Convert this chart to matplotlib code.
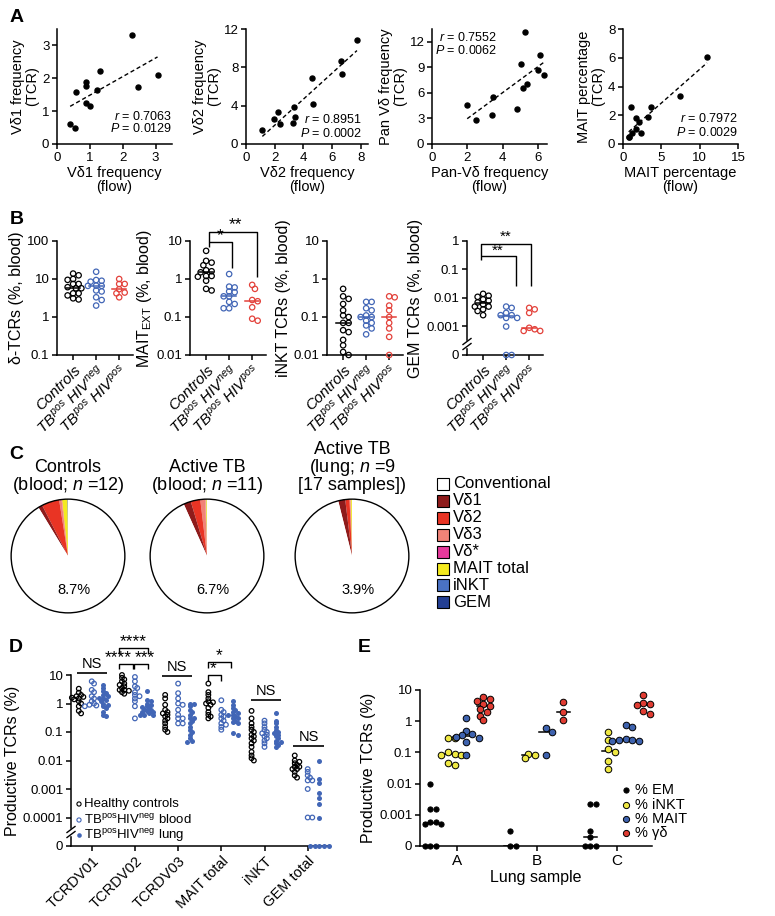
import numpy as np
import matplotlib
matplotlib.use('Agg')
import matplotlib.pyplot as plt
from matplotlib.patches import Rectangle, Circle

# ---------------- data ----------------
# A: TCR-seq frequency vs flow frequency
a1_flow = [2.27, 1.30, 3.06, 0.87, 0.87, 0.59, 1.21, 2.45, 0.87, 0.99, 0.40, 0.56]
a1_tcr = [3.31, 2.22, 2.09, 1.90, 1.76, 1.59, 1.64, 1.72, 1.26, 1.17, 0.62, 0.49]
a2_flow = [7.73, 6.61, 6.68, 4.59, 4.64, 3.32, 2.25, 3.43, 1.97, 3.29, 2.39, 1.14]
a2_tcr = [10.9, 8.68, 7.29, 6.91, 4.13, 3.89, 3.33, 2.78, 2.57, 2.22, 2.08, 1.42]
a3_flow = [5.28, 6.13, 5.02, 5.98, 6.32, 5.39, 5.15, 1.99, 3.42, 4.79, 3.40, 2.50]
a3_tcr = [13.1, 10.5, 9.34, 8.63, 8.13, 7.03, 6.52, 4.61, 5.47, 4.14, 3.44, 2.85]
a4_flow = [10.96, 7.39, 1.09, 3.61, 1.74, 3.22, 2.13, 1.70, 1.22, 2.35, 0.83, 0.74]
a4_tcr = [6.06, 3.31, 2.55, 2.59, 1.83, 1.85, 1.55, 1.06, 0.79, 0.79, 0.51, 0.46]
a_r = ['0.7063', '0.8951', '0.7552', '0.7972']
a_p = ['0.0129', '0.0002', '0.0062', '0.0029']

# B: % of blood TCRs (Controls, TBpos HIVneg, TBpos HIVpos)
b1_ctrl = [13.9, 12.5, 10.0, 9.5, 7.4, 7.4, 6.1, 5.7, 5.7, 4.2, 4.2, 3.7, 3.1, 2.9]
b1_hivneg = [15.5, 9.4, 9.0, 8.5, 6.6, 6.6, 6.7, 5.0, 4.7, 3.3, 2.8, 2.0]
b1_hivpos = [10.0, 7.4, 7.4, 5.4, 4.2, 4.4, 3.3]
b2_ctrl = [5.5, 3.0, 2.7, 2.3, 1.7, 1.6, 1.5, 1.2, 1.2, 1.15, 0.9, 0.55, 0.5]
b2_hivneg = [1.35, 0.63, 0.6, 0.47, 0.45, 0.35, 0.35, 0.25, 0.22, 0.17, 0.17]
b2_hivpos = [0.7, 0.55, 0.28, 0.26, 0.18, 0.09, 0.08]
b3_ctrl = [0.55, 0.35, 0.3, 0.22, 0.15, 0.11, 0.1, 0.07, 0.07, 0.045, 0.04, 0.025, 0.018, 0.012, 0.01]
b3_hivneg = [0.25, 0.25, 0.17, 0.15, 0.11, 0.1, 0.1, 0.08, 0.07, 0.06, 0.05, 0.035]
b3_hivpos = [0.35, 0.33, 0.2, 0.15, 0.1, 0.07, 0.05, 0.03, 0.01]
b4_ctrl = [0.014, 0.011, 0.012, 0.009, 0.008, 0.007, 0.006, 0.005, 0.005, 0.004, 0.0035, 0.0025]
b4_hivneg = [0.005, 0.0045, 0.003, 0.0025, 0.0025, 0.002, 0.002, 0.001, 0, 0]
b4_hivpos = [0.0045, 0.004, 0.003, 0.0009, 0.0008, 0.0007, 0.0007]
b_ylabels = ['δ-TCRs (%, blood)', 'MAIT$_{\\mathrm{EXT}}$ (%, blood)',
             'iNKT TCRs (%, blood)', 'GEM TCRs (%, blood)']

# C: composition of TCR repertoire (%), order Vd1, Vd2, Vd3, Vd*, MAIT, iNKT, GEM
pie_labels = ['Conventional', 'Vδ1', 'Vδ2', 'Vδ3', 'Vδ*', 'MAIT total', 'iNKT', 'GEM']
pie_ctrl = [1.2, 5.0, 0.7, 0.1, 1.5, 0.15, 0.05]
pie_tb_blood = [2.1, 2.7, 1.4, 0.1, 0.3, 0.08, 0.02]
pie_tb_lung = [2.0, 1.2, 0.25, 0.05, 0.35, 0.04, 0.01]
pie_titles = [['Controls', '(blood; $n$ =12)'], ['Active TB', '(blood; $n$ =11)'],
              ['Active TB', '(lung; $n$ =9', '[17 samples])']]

# D: productive TCRs (%)
d_cats = ['TCRDV01', 'TCRDV02', 'TCRDV03', 'MAIT total', 'iNKT', 'GEM total']
d_healthy = [
    [3.3, 2.4, 2.0, 1.8, 1.7, 1.6, 1.5, 1.4, 1.2, 1.0, 0.8, 0.55, 0.45],
    [10, 8, 7, 6, 5, 4.5, 4, 3.5, 3, 3, 2.8, 2.5, 2.2],
    [2.0, 1.5, 0.9, 0.6, 0.5, 0.45, 0.4, 0.35, 0.3, 0.25, 0.2, 0.15, 0.12, 0.1],
    [5.0, 2.5, 2.0, 1.5, 1.2, 1.1, 1.0, 0.9, 0.7, 0.5, 0.4, 0.35, 0.3],
    [0.55, 0.3, 0.2, 0.15, 0.12, 0.1, 0.08, 0.07, 0.06, 0.05, 0.04, 0.03, 0.02, 0.015, 0.012, 0.01],
    [0.015, 0.01, 0.009, 0.008, 0.007, 0.006, 0.006, 0.005, 0.005, 0.004, 0.003, 0.0025]]
d_tb_blood = [
    [6.0, 5.0, 3.0, 2.5, 1.8, 1.5, 1.2, 1.0, 0.9, 0.85, 0.8],
    [8.5, 6, 4, 3.5, 2.5, 2, 1.8, 1.5, 1.2, 0.8, 0.3],
    [5.0, 2.3, 1.5, 1.0, 0.9, 0.6, 0.4, 0.3, 0.3, 0.2, 0.2],
    [1.3, 0.6, 0.5, 0.4, 0.35, 0.3, 0.25, 0.2, 0.18, 0.15, 0.12],
    [0.25, 0.2, 0.15, 0.12, 0.1, 0.09, 0.08, 0.07, 0.06, 0.05, 0.04, 0.03],
    [0.005, 0.004, 0.003, 0.0025, 0.002, 0.002, 0.001, 0.0001, 0.0001]]
d_tb_lung = [
    [4.5, 3.5, 2.8, 2.3, 2.0, 1.8, 1.6, 1.5, 1.3, 1.2, 1.0, 0.9, 0.8, 0.7, 0.5, 0.4, 0.35],
    [2.8, 1.3, 1.2, 1.0, 0.9, 0.8, 0.75, 0.7, 0.65, 0.6, 0.55, 0.5, 0.5, 0.45, 0.4, 0.4, 0.38],
    [1.0, 1.0, 0.8, 0.6, 0.5, 0.4, 0.3, 0.3, 0.25, 0.2, 0.15, 0.12, 0.1, 0.08, 0.06, 0.05, 0.045],
    [1.2, 0.9, 0.7, 0.6, 0.5, 0.45, 0.4, 0.38, 0.35, 0.3, 0.3, 0.25, 0.22, 0.2, 0.09, 0.08],
    [0.45, 0.25, 0.2, 0.15, 0.12, 0.1, 0.09, 0.08, 0.07, 0.06, 0.05, 0.045, 0.04, 0.035, 0.03],
    [0.01, 0.0023, 0.0016, 0.0007, 0.0005, 0.0003, 0.0001, 0, 0, 0, 0, 0]]

# E: lung samples A, B, C
e_samples = ['A', 'B', 'C']
e_em = [[0.01, 0.0015, 0.0015, 0.0006, 0.0005, 0.0005, 0.0006, 0, 0, 0],
        [0.0003, 0, 0],
        [0.0022, 0.0023, 0.0003, 0.0002, 0, 0, 0]]
e_inkt = [[0.28, 0.28, 0.1, 0.09, 0.085, 0.08, 0.045, 0.04],
          [0.09, 0.08, 0.065],
          [0.45, 0.25, 0.13, 0.1, 0.055, 0.03]]
e_mait = [[1.3, 0.5, 0.4, 0.35, 0.32, 0.3, 0.22, 0.08],
          [0.6, 0.45, 0.085],
          [0.75, 0.65, 0.27, 0.25, 0.25, 0.24, 0.23]]
e_gd = [[6.0, 5.0, 4.5, 3.5, 3.0, 2.5, 2.0, 1.5, 1.1],
        [4.0, 2.0, 1.1],
        [7.0, 3.8, 3.5, 3.3, 2.2, 1.7]]

# ---------------- style ----------------
plt.rcParams['font.family'] = ['Liberation Sans', 'DejaVu Sans']
plt.rcParams['mathtext.fontset'] = 'custom'
plt.rcParams['mathtext.rm'] = 'Liberation Sans'
plt.rcParams['mathtext.it'] = 'Liberation Sans:italic'
plt.rcParams['mathtext.bf'] = 'Liberation Sans:bold'
plt.rcParams['axes.linewidth'] = 1.1

BLUE = '#4266B6'
RED = '#E3413A'
pie_colors = ['white', '#8E1B1B', '#E93424', '#F08377', '#E6399B', '#F4EA1E', '#4A72C4', '#233F94']

W, H = 775, 916
fig = plt.figure(figsize=(W / 100, H / 100), dpi=100)


def px_ax(l, t, r, b):
    return fig.add_axes([l / W, 1 - b / H, (r - l) / W, (b - t) / H])


def clean(ax, size=9.5):
    ax.spines['top'].set_visible(False)
    ax.spines['right'].set_visible(False)
    ax.tick_params(direction='out', length=3.5, width=1.1, labelsize=size, pad=2)


def swarm(vals, zero, ppd, ppu, diam, sep=0.85):
    # simple beeswarm: push points sideways until they stop overlapping
    v = np.asarray(vals, float)
    v = np.where(v > 0, v, zero)
    ypx = np.log10(v) * ppd
    xs = np.zeros(len(v))
    done = []
    steps = [0.0]
    for k in range(1, 15):
        steps += [k * diam * 0.5, -k * diam * 0.5]
    for i in np.argsort(-ypx, kind='stable'):
        for s in steps:
            if all(np.hypot(s - xs[j], ypx[i] - ypx[j]) >= diam * sep for j in done):
                xs[i] = s
                break
        done.append(i)
    return v, xs / ppu


# ---------------- A ----------------
a_data = [(a1_flow, a1_tcr), (a2_flow, a2_tcr), (a3_flow, a3_tcr), (a4_flow, a4_tcr)]
a_ylab = ['Vδ1 frequency', 'Vδ2 frequency', 'Pan Vδ frequency', 'MAIT percentage']
a_xlab = ['Vδ1 frequency', 'Vδ2 frequency', 'Pan-Vδ frequency', 'MAIT percentage']
a_box = [(57, 172), (246, 368), (432, 547), (623, 738)]
a_lims = [(3.5, 3.5), (8.5, 12), (6.5, 13.5), (15, 8)]
a_xt = [[0, 1, 2, 3], [0, 2, 4, 6, 8], [0, 2, 4, 6], [0, 5, 10, 15]]
a_yt = [[0, 1, 2, 3], [0, 4, 8, 12], [0, 3, 6, 9, 12], [0, 2, 4, 6, 8]]
a_txt = [(1.0, 0.24, 0.135), (0.95, 0.215, 0.09), (0.57, 0.925, 0.81), (1.0, 0.22, 0.1)]

for i in range(4):
    ax = px_ax(a_box[i][0], 29, a_box[i][1], 144)
    clean(ax)
    x, y = np.array(a_data[i][0]), np.array(a_data[i][1])
    ax.plot(x, y, 'o', color='black', ms=3.6, clip_on=False)
    fit = np.polyfit(x, y, 1)
    xs = np.array([x.min(), x.max()])
    ax.plot(xs, np.polyval(fit, xs), color='black', lw=1, dashes=(3, 2))
    ax.set_xlim(0, a_lims[i][0])
    ax.set_ylim(0, a_lims[i][1])
    ax.set_xticks(a_xt[i])
    ax.set_yticks(a_yt[i])
    ax.set_xlabel(a_xlab[i] + '\n(flow)', fontsize=10.5, labelpad=2, linespacing=1.0)
    ax.set_ylabel(a_ylab[i] + '\n(TCR)', fontsize=10.5, labelpad=2, linespacing=1.0)
    tx, ty1, ty2 = a_txt[i]
    ax.text(tx, ty1, '$r$ = ' + a_r[i], transform=ax.transAxes, ha='right', va='center', fontsize=9)
    ax.text(tx, ty2, '$P$ = ' + a_p[i], transform=ax.transAxes, ha='right', va='center', fontsize=9)

# ---------------- B ----------------
b_data = [(b1_ctrl, b1_hivneg, b1_hivpos), (b2_ctrl, b2_hivneg, b2_hivpos),
          (b3_ctrl, b3_hivneg, b3_hivpos), (b4_ctrl, b4_hivneg, b4_hivpos)]
b_left = [57, 190, 327, 467]
b_ylim = [(0.1, 100), (0.01, 10), (0.01, 10), (1e-4, 1)]
b_ticks = [[0.1, 1, 10, 100], [0.01, 0.1, 1, 10], [0.01, 0.1, 1, 10], [1e-4, 1e-3, 1e-2, 0.1, 1]]
b_tlab = [['0.1', '1', '10', '100'], ['0.01', '0.1', '1', '10'], ['0.01', '0.1', '1', '10'],
          ['0', '0.001', '0.01', '0.1', '1']]
b_xlab = ['Controls', '$TB^{pos}\\ HIV^{neg}$', '$TB^{pos}\\ HIV^{pos}$']
b_cols = ['black', BLUE, RED]

for i in range(4):
    ax = px_ax(b_left[i], 241, b_left[i] + 76, 355)
    ax.set_yscale('log')
    clean(ax)
    lo, hi = b_ylim[i]
    ppd = 114 / np.log10(hi / lo)
    for g in range(3):
        v, off = swarm(b_data[i][g], 1e-4, ppd, 23, 5.5, 0.85)
        ax.scatter(g + off, v, s=15, facecolors='none', edgecolors=b_cols[g], linewidths=0.9,
                   clip_on=False, zorder=3)
        med = np.median(b_data[i][g])
        ax.plot([g - 0.3, g + 0.3], [med, med], color=b_cols[g], lw=1.1, zorder=2)
    ax.set_xlim(-0.7, 2.6)
    ax.set_ylim(lo, hi)
    ax.set_yticks(b_ticks[i])
    ax.set_yticklabels(b_tlab[i])
    ax.minorticks_off()
    ax.set_xticks([0, 1, 2])
    ax.set_xticklabels(b_xlab, rotation=45, ha='right', va='top', rotation_mode='anchor',
                       fontsize=11, style='italic')
    ax.set_ylabel(b_ylabels[i], fontsize=11.5, labelpad=2)

# ---------------- C ----------------
pie_sets = [pie_ctrl, pie_tb_blood, pie_tb_lung]
pie_cx = [68, 207, 352]
for i in range(3):
    ax = px_ax(pie_cx[i] - 58, 498, pie_cx[i] + 58, 614)
    parts = list(pie_sets[i])
    vals = [100 - sum(parts)] + parts
    ax.pie(vals[::-1], colors=pie_colors[::-1], startangle=90, counterclock=True,
           wedgeprops=dict(linewidth=0))
    ax.add_patch(Circle((0, 0), 1, fill=False, lw=1, ec='black'))
    ax.set_xlim(-1.02, 1.02)
    ax.set_ylim(-1.02, 1.02)
    ax.set_aspect('equal')
    ax.axis('off')
    fig.text(pie_cx[i] / W + 0.008, 1 - 590 / H, f'{sum(parts):.1f}%', ha='center', va='center',
             fontsize=10.5)
    lines = pie_titles[i]
    for k, line in enumerate(lines):
        y = 485 - 17.5 * (len(lines) - 1 - k)
        fig.text(pie_cx[i] / W, 1 - y / H, line, ha='center', va='center', fontsize=13)

# ---------------- D ----------------
ax = px_ax(71, 675, 328, 846)
ax.set_yscale('log')
clean(ax)
d_groups = [d_healthy, d_tb_blood, d_tb_lung]
d_off = [-0.3, 0.0, 0.27]
for c in range(len(d_cats)):
    for g in range(3):
        v, off = swarm(d_groups[g][c], 1e-5, 28.5, 43.2, 4.6, 0.6)
        if g == 0:
            ax.scatter(c + d_off[g] + off, v, s=11, facecolors='none', edgecolors='black',
                       linewidths=0.9, clip_on=False, zorder=3)
        elif g == 1:
            ax.scatter(c + d_off[g] + off, v, s=11, facecolors='none', edgecolors=BLUE,
                       linewidths=0.9, clip_on=False, zorder=3)
        else:
            ax.scatter(c + d_off[g] + off, v, s=13, color=BLUE, linewidths=0,
                       clip_on=False, zorder=3)
ax.set_xlim(-0.48, 5.47)
ax.set_ylim(1e-5, 10)
ax.set_yticks([1e-5, 1e-4, 1e-3, 1e-2, 0.1, 1, 10])
ax.set_yticklabels(['0', '0.0001', '0.001', '0.01', '0.1', '1', '10'])
ax.minorticks_off()
ax.set_xticks(range(len(d_cats)))
ax.set_xticklabels(d_cats, rotation=45, ha='right', va='top', rotation_mode='anchor', fontsize=10.5)
ax.set_ylabel('Productive TCRs (%)', fontsize=11.5, labelpad=2)

# ---------------- E ----------------
ax = px_ax(420, 690, 652, 846)
ax.set_yscale('log')
clean(ax)
e_groups = [e_em, e_inkt, e_mait, e_gd]
e_cols = ['black', '#EFE843', '#3E62AE', '#E03C32']
e_off = [-0.33, -0.11, 0.11, 0.33]
for s in range(3):
    for g in range(4):
        diam = 5.2 if g == 0 else 6.6
        v, off = swarm(e_groups[g][s], 1e-4, 31.2, 80, diam, 0.8)
        med = np.median(e_groups[g][s])
        med = med if med > 0 else 1e-4
        ax.plot([s + e_off[g] - 0.08, s + e_off[g] + 0.08], [med, med], color='black', lw=1.1, zorder=2)
        ax.scatter(s + e_off[g] + off, v, s=(diam * 0.72) ** 2, color=e_cols[g], edgecolors='black',
                   linewidths=0.7, clip_on=False, zorder=3)
ax.set_xlim(-0.46, 2.44)
ax.set_ylim(1e-4, 10)
ax.set_yticks([1e-4, 1e-3, 1e-2, 0.1, 1, 10])
ax.set_yticklabels(['0', '0.001', '0.01', '0.1', '1', '10'])
ax.minorticks_off()
ax.set_xticks(range(3))
ax.set_xticklabels(e_samples, fontsize=11)
ax.set_xlabel('Lung sample', fontsize=11.5, labelpad=2)
ax.set_ylabel('Productive TCRs (%)', fontsize=11.5, labelpad=2)

# ---------------- annotations (pixel coordinates) ----------------
ov = fig.add_axes([0, 0, 1, 1], zorder=10)
ov.set_xlim(0, W)
ov.set_ylim(H, 0)
ov.axis('off')

for lab, (x, y) in zip('ABCDE', [(10, 9), (10, 211), (9, 446), (9, 639), (358, 639)]):
    ov.text(x, y, lab, fontsize=14, fontweight='bold', ha='left', va='top')


def bracket(pts, lw=1.0):
    xs, ys = zip(*pts)
    ov.plot(xs, ys, color='black', lw=lw, solid_capstyle='butt')


def label(x, y, s, size=14):
    ov.text(x, y, s, ha='center', va='center', fontsize=size)


# B2 brackets
bracket([(209, 247), (209, 232), (257, 232), (257, 277)])
bracket([(209, 242), (232, 242), (232, 268)])
label(235, 225, '**', 12.5)
label(220, 236, '*', 12.5)
# B4 brackets
bracket([(481, 260), (481, 244), (531, 244), (531, 286)])
bracket([(481, 256), (516, 256), (516, 286)])
label(506, 237, '**', 11)
label(498, 251, '**', 11)

# D annotations
for x0, x1, y, s in [(77, 107, 673, 'NS'), (162, 192, 676, 'NS'), (251, 281, 700, 'NS'),
                     (293, 324, 746, 'NS')]:
    bracket([(x0, y), (x1, y)], lw=1.2)
    label((x0 + x1) / 2, y - 9, s, size=10.5)
bracket([(119, 654), (119, 648), (148, 648), (148, 654)])
label(133, 642, '****', 12.5)
bracket([(119, 669), (119, 664), (133, 664), (133, 669)])
bracket([(134, 669), (134, 664), (148, 664), (148, 669)])
label(118, 658, '****', 12.5)
label(145, 658, '***', 12.5)
bracket([(208, 668), (208, 662), (231, 662), (231, 668)])
bracket([(208, 681), (208, 675), (221, 675), (221, 681)])
label(219, 656, '*', 12.5)
label(213, 669, '*', 12.5)

# axis breaks
for bx, by in [(71, 832), (467, 344)]:
    ov.add_patch(Rectangle((bx - 2, by - 3), 4, 6, color='white', zorder=5))
    for dy in (-2.5, 2.5):
        ov.plot([bx - 4, bx + 4], [by + dy + 3, by + dy - 3], color='black', lw=1, zorder=6)

# C legend
for k, name in enumerate(pie_labels):
    y = 484 + 16.9 * k
    ov.add_patch(Rectangle((437, y - 6), 12, 12, facecolor=pie_colors[k], edgecolor='black', lw=0.8))
    ov.text(453, y, name, ha='left', va='center', fontsize=12)

# D legend
d_leg = ['Healthy controls', 'TB$^{\\mathrm{pos}}$HIV$^{\\mathrm{neg}}$ blood',
         'TB$^{\\mathrm{pos}}$HIV$^{\\mathrm{neg}}$ lung']
for k, name in enumerate(d_leg):
    y = [804, 820, 835][k]
    if k < 2:
        ov.scatter([79], [y], s=9, facecolors='none', edgecolors=['black', BLUE][k], linewidths=0.8)
    else:
        ov.scatter([79], [y], s=11, color=BLUE, linewidths=0)
    ov.text(84, y, name, ha='left', va='center', fontsize=9.5)

# E legend
e_leg = ['% EM', '% iNKT', '% MAIT', '% γδ']
for k, name in enumerate(e_leg):
    y = [790, 805, 819, 833][k]
    ov.scatter([626], [y], s=20 if k else 14, color=e_cols[k], edgecolors='black', linewidths=0.7)
    ov.text(635, y, name, ha='left', va='center', fontsize=10.5)

fig.savefig('out.png', dpi=100)
